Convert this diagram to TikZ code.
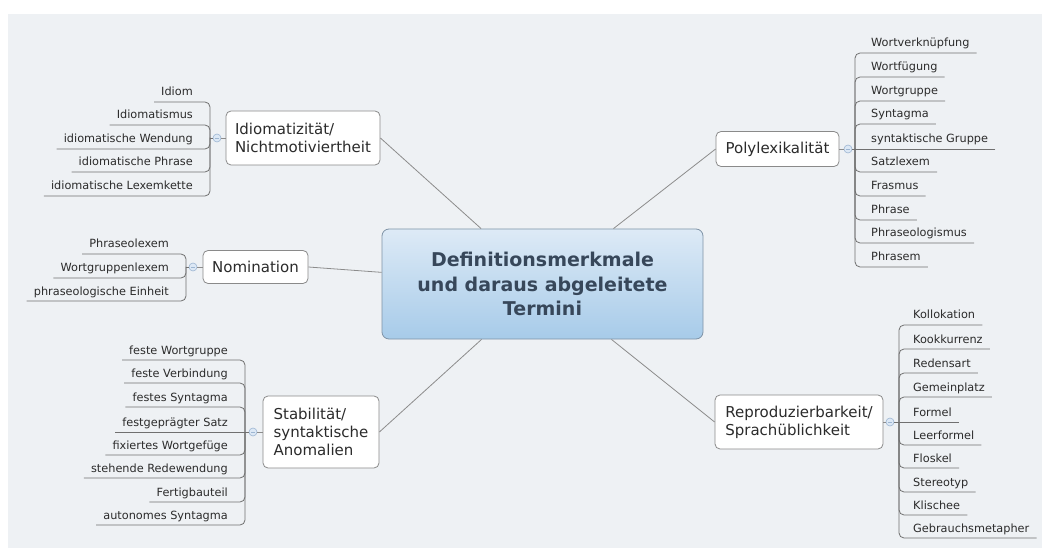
\documentclass[tikz,border=0pt]{standalone}
\usepackage{fontspec}
\setmainfont{DejaVu Sans}
\definecolor{paper}{HTML}{EEF1F4}
\definecolor{txt}{HTML}{2B2B2B}
\definecolor{hubtxt}{HTML}{37475A}
\definecolor{hubtop}{HTML}{DDEAF6}
\definecolor{hubbot}{HTML}{A7CBE9}
\definecolor{hubline}{HTML}{7F93A6}
\definecolor{boxline}{HTML}{8A8A8A}
\definecolor{conline}{HTML}{8C8C8C}
\definecolor{brline}{HTML}{707070}
\definecolor{togline}{HTML}{9DB6D2}
\definecolor{togfill}{HTML}{DCE8F5}
\begin{document}
\begin{tikzpicture}[x=1pt,y=-1pt,
  hub/.style={draw=hubline, line width=0.8pt, rounded corners=7pt,
    top color=hubtop, bottom color=hubbot, minimum width=321pt, minimum height=110pt,
    align=center, inner sep=0pt, text=hubtxt,
    font=\bfseries\fontsize{19}{24.5}\selectfont},
  topic/.style={draw=boxline, fill=white, line width=0.8pt, rounded corners=5pt,
    align=left, inner sep=0pt, text=txt, font=\fontsize{15}{18}\selectfont},
  item/.style={text=txt, font=\fontsize{11.3}{13}\selectfont, inner xsep=7pt,
    inner ysep=3pt, text height=8.5pt, text depth=2.8pt},
  litem/.style={item, anchor=south east},
  ritem/.style={item, anchor=south west},
  branch/.style={draw=brline, line width=0.8pt, rounded corners=5pt},
  conn/.style={draw=conline, line width=0.8pt},
  tog/.style={circle, draw=togline, fill=togfill, line width=0.6pt,
    minimum size=8pt, inner sep=0pt,
    path picture={\draw[togline, line width=0.6pt]
      ([xshift=-2.2pt]path picture bounding box.center) --
      ([xshift=2.2pt]path picture bounding box.center);}}]

\useasboundingbox (0,0) rectangle (1042,548);
\fill[paper] (8,14) rectangle (1042,548);

% central topic
\node[hub] (hub) at (542.5,284) {Definitionsmerkmale\\und daraus abgeleitete\\Termini};

% main topics
\node[topic, minimum width=154pt, minimum height=54pt] (idio) at (303,138)
  {Idiomatizität/\\Nichtmotiviertheit};
\node[topic, minimum width=105pt, minimum height=33pt] (nomi) at (255.5,267)
  {Nomination};
\node[topic, minimum width=116pt, minimum height=72pt] (stab) at (321,432)
  {Stabilität/\\syntaktische\\Anomalien};
\node[topic, minimum width=123pt, minimum height=35pt] (poly) at (777.5,149)
  {Polylexikalität};
\node[topic, minimum width=168pt, minimum height=54pt] (repr) at (799,422)
  {Reproduzierbarkeit/\\Sprachüblichkeit};

% connectors to the central topic
\draw[conn] (idio.east) -- (hub);
\draw[conn] (nomi.east) -- (hub);
\draw[conn] (stab.east) -- (hub);
\draw[conn] (poly.west) -- (hub);
\draw[conn] (repr.west) -- (hub);

% collapse toggles and trunk joints
\node[tog] (cIdio) at (217,138) {};
\coordinate (tIdio) at (210,138);
\node[tog] (cNomi) at (193,267) {};
\coordinate (tNomi) at (186,267);
\node[tog] (cStab) at (253,432) {};
\coordinate (tStab) at (245,432);
\node[tog] (cPoly) at (848,149) {};
\coordinate (tPoly) at (855,149);
\node[tog] (cRepr) at (890,422) {};
\coordinate (tRepr) at (899,422);

\foreach \c/\t/\p in {cIdio/tIdio/idio, cNomi/tNomi/nomi, cStab/tStab/stab,
                      cPoly/tPoly/poly, cRepr/tRepr/repr}{
  \draw[branch] (\t) -- (\c);
  \draw[conn] (\c) -- (\p);
}

% Idiomatizität
\foreach \n/\y/\s in {i1/102/Idiom, i2/125/Idiomatismus, i3/149/idiomatische Wendung,
                      i4/172/idiomatische Phrase, i5/196/idiomatische Lexemkette}{
  \node[litem] (\n) at (200,\y) {\s};
  \draw[branch] (\n.south west) -- (\n.south west -| tIdio) -- (tIdio);
}

% Nomination
\foreach \n/\y/\s in {n1/254/Phraseolexem, n2/278/Wortgruppenlexem,
                      n3/301/phraseologische Einheit}{
  \node[litem] (\n) at (176,\y) {\s};
  \draw[branch] (\n.south west) -- (\n.south west -| tNomi) -- (tNomi);
}

% Stabilität
\foreach \n/\y/\s in {s1/360/feste Wortgruppe, s2/383/feste Verbindung,
                      s3/407/festes Syntagma, s5/455/fixiertes Wortgefüge,
                      s6/478/stehende Redewendung, s7/502/Fertigbauteil,
                      s8/525/autonomes Syntagma}{
  \node[litem] (\n) at (235,\y) {\s};
  \draw[branch] (\n.south west) -- (\n.south west -| tStab) -- (tStab);
}
\node[litem] (s4) at (235,432) {festgeprägter Satz};
\draw[branch] (s4.south west) -- (tStab);

% Polylexikalität
\foreach \n/\y/\s in {p1/53/Wortverknüpfung, p2/77/Wortfügung, p3/101/Wortgruppe,
                      p4/124/Syntagma, p6/172/Satzlexem, p7/196/Frasmus,
                      p8/220/Phrase, p9/243/Phraseologismus, p10/267/Phrasem}{
  \node[ritem] (\n) at (864,\y) {\s};
  \draw[branch] (\n.south east) -- (\n.south east -| tPoly) -- (tPoly);
}
\node[ritem] (p5) at (864,149) {syntaktische Gruppe};
\draw[branch] (p5.south east) -- (tPoly);

% Reproduzierbarkeit
\foreach \n/\y/\s in {r1/325/Kollokation, r2/349/Kookkurrenz, r3/373/Redensart,
                      r4/397/Gemeinplatz, r6/445/Leerformel, r7/468/Floskel,
                      r8/492/Stereotyp, r9/515/Klischee, r10/538/Gebrauchsmetapher}{
  \node[ritem] (\n) at (906,\y) {\s};
  \draw[branch] (\n.south east) -- (\n.south east -| tRepr) -- (tRepr);
}
\node[ritem] (r5) at (906,422) {Formel};
\draw[branch] (r5.south east) -- (tRepr);

\end{tikzpicture}
\end{document}
